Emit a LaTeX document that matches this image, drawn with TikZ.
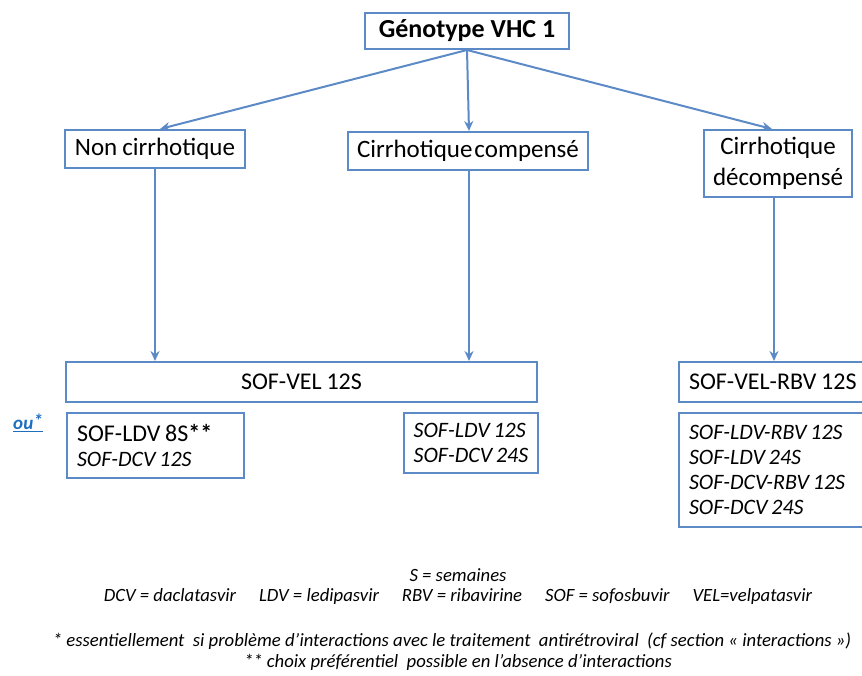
\documentclass[tikz,border=0pt]{standalone}
\usepackage{fontspec}
\setmainfont{Carlito}
\usetikzlibrary{arrows.meta}
\definecolor{boxblue}{RGB}{92,138,198}
\definecolor{linkblue}{RGB}{31,111,192}
\newcommand\mytightsp[1]{\spaceskip #1\relax}
\tikzset{
  box/.style={draw=boxblue, line width=2pt, inner sep=0pt, text=black,
    font=\fontsize{25}{31}\selectfont\mytightsp{0.2em}},
  listbox/.style={box, anchor=north west, align=left, inner xsep=10pt,
    font=\fontsize{22}{25}\selectfont\mytightsp{0.17em}},
  arr/.style={draw=boxblue, line width=2pt, -{Stealth[length=10pt,width=9pt]}},
  legend/.style={inner sep=0pt, font=\fontsize{18.7}{22}\selectfont\itshape},
}
\begin{document}
\begin{tikzpicture}[x=1pt,y=-1pt]
\useasboundingbox (0,0) rectangle (862,675);
% top
\node[box, font=\fontsize{26}{30}\selectfont\bfseries, minimum width=204, minimum height=36] (top) at (467,31) {Génotype VHC 1};
% second level
\node[box, minimum width=180, minimum height=38] (nc) at (155,149) {Non cirrhotique};
\node[box, font=\fontsize{25}{31}\selectfont\mytightsp{0.08em}, minimum width=240, minimum height=38] (cc) at (468,151) {Cirrhotique compensé};
\node[box, minimum width=148, minimum height=67, align=center] (dc) at (778,163.5) {Cirrhotique\\décompensé};
% treatments
\node[box, font=\fontsize{24}{28}\selectfont\mytightsp{0.2em}, minimum width=471, minimum height=40] (vel) at (301.5,382) {SOF-VEL 12S};
\node[box, font=\fontsize{24}{28}\selectfont, anchor=west, align=left, inner xsep=10pt, text width=210pt, minimum height=40] (rbv) at (678,382) {\mytightsp{0.2em}SOF-VEL-RBV 12S};
% alternatives
\node[listbox, text width=157pt, minimum height=65] (l1) at (66,412) {\mytightsp{0.17em}{\fontsize{24}{25}\selectfont\mytightsp{0.2em}SOF-LDV 8S\textbf{**}}\\\itshape SOF-DCV 12S};
\node[listbox, inner xsep=0pt, minimum width=134pt, minimum height=60] (l2) at (403,412) {\itshape SOF-LDV 12S\\\itshape SOF-DCV 24S};
\node[listbox, text width=168pt, minimum height=114] (l3) at (678,412) {\mytightsp{0.17em}\itshape SOF-LDV-RBV 12S\\\itshape SOF-LDV 24S\\\itshape SOF-DCV-RBV 12S\\\itshape SOF-DCV 24S};
\node[inner sep=0pt, text=linkblue, font=\fontsize{19}{22}\selectfont\bfseries\itshape] (ou) at (28,423) {\underline{ou\raisebox{0.1em}{*}}};
% arrows
\draw[arr] (top.south) -- ([xshift=5pt]nc.north);
\draw[arr] (top.south) -- ([xshift=1pt]cc.north);
\draw[arr] (top.south) -- ([xshift=-6pt]dc.north);
\draw[arr] (nc.south) -- (nc.south |- vel.north);
\draw[arr] ([xshift=1pt]cc.south) -- ([xshift=1pt]cc.south |- vel.north);
\draw[arr] ([xshift=-4pt]dc.south) -- ([xshift=-4pt]dc.south |- rbv.north);
% legend
\node[legend] (s) at (458,575) {S = semaines};
\node[legend] (abbr) at (458,597) {DCV = daclatasvir\hspace{23pt}LDV = ledipasvir\hspace{23pt}RBV = ribavirine\hspace{23pt}SOF = sofosbuvir\hspace{23pt}VEL=velpatasvir};
\node[legend] (n1) at (452,641) {* essentiellement\ \ si problème d’interactions avec le traitement\ \ antirétroviral\ \ (cf section « interactions »)};
\node[legend] (n2) at (458,662) {** choix préférentiel\ \ possible en l’absence d’interactions};
\end{tikzpicture}
\end{document}
